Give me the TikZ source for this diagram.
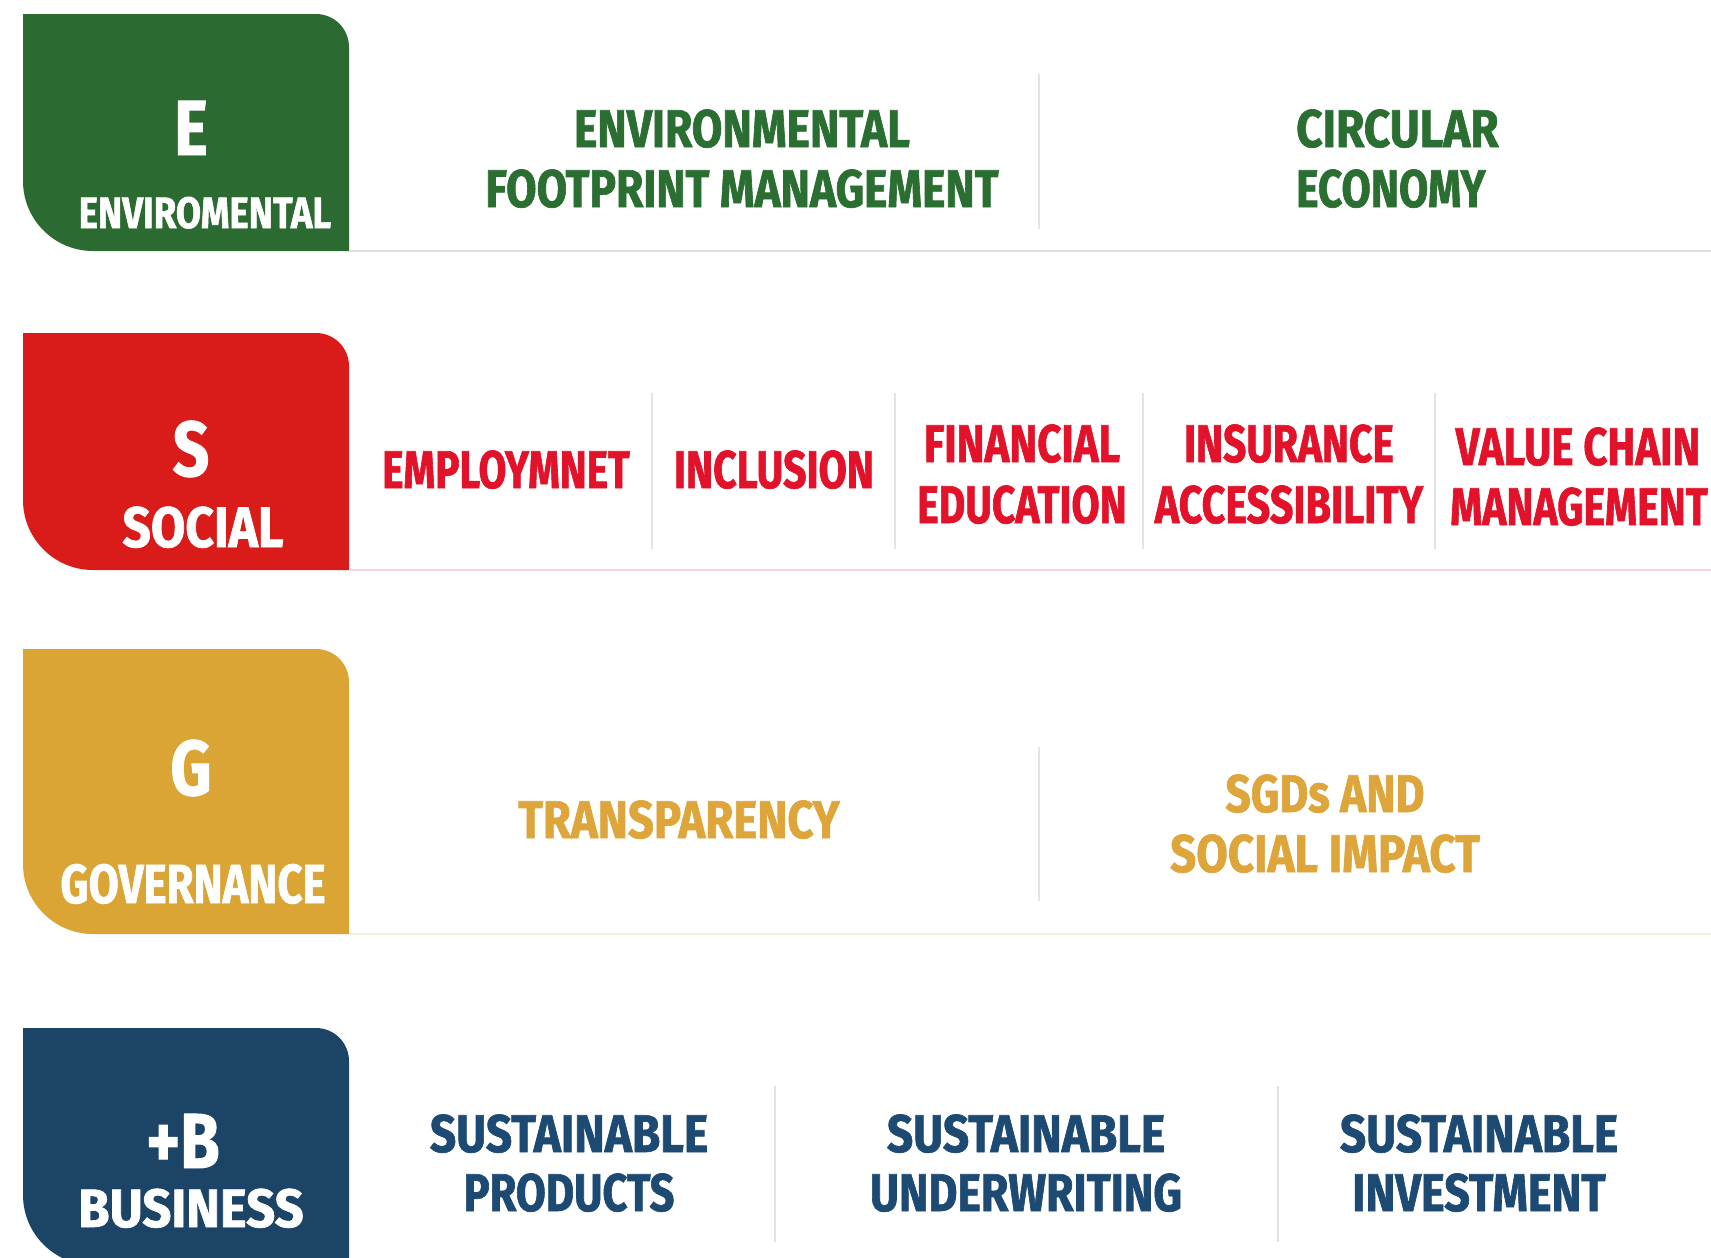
\documentclass[tikz,border=0pt]{standalone}
\usepackage{graphicx}
\usepackage{fontspec}
\newfontfamily\din[FakeStretch=0.82,FakeBold=1.2]{Fira Sans}
\newcommand\hs[2]{\scalebox{#1}[1]{#2}}
\definecolor{egreen}{HTML}{2B6A31}
\definecolor{egreentxt}{HTML}{2A6E32}
\definecolor{sred}{HTML}{D91C1A}
\definecolor{sredtxt}{HTML}{E11229}
\definecolor{ggold}{HTML}{DBA536}
\definecolor{ggoldtxt}{HTML}{DDA53A}
\definecolor{bnavy}{HTML}{1B4467}
\definecolor{bnavytxt}{HTML}{1D4A73}
\definecolor{sepgray}{HTML}{DCDCDC}
\definecolor{seppink}{HTML}{F4D5D8}
\definecolor{sepcream}{HTML}{F2EEDC}
\definecolor{divgray}{HTML}{E3E3E3}
\begin{document}
\begin{tikzpicture}[x=1pt,y=-1pt,
  bigletter/.style={inner sep=0pt,anchor=base,text=white,font=\din\bfseries\fontsize{78}{80}\selectfont},
  boxword/.style={inner sep=0pt,anchor=base,text=white,font=\din\bfseries\fontsize{#1}{60}\selectfont},
  item/.style={inner sep=0pt,anchor=base,font=\din\bfseries\fontsize{53}{60}\selectfont},
  divider/.style={draw=divgray,line width=1.6pt}]
\useasboundingbox (0,0) rectangle (1711,1258);
\fill[white] (0,0) rectangle (1711,1258);
% boxes
\newcommand\pillarbox[3]{%
  \fill[#1] (23,#2) -- (316,#2) arc[start angle=-90,end angle=0,radius=33] -- (349,#3) -- (93,#3) arc[start angle=90,end angle=180,radius=70] -- cycle;}
\pillarbox{egreen}{14}{251}
\pillarbox{sred}{333}{570}
\pillarbox{ggold}{649}{934}
\pillarbox{bnavy}{1028}{1265}
% separators
\draw[sepgray,line width=1.6pt] (349,251) -- (1711,251);
\draw[seppink,line width=1.6pt] (349,570) -- (1711,570);
\draw[sepcream,line width=1.6pt] (349,934) -- (1711,934);
% dividers
\draw[divider] (1039,74) -- (1039,229);
\foreach \x in {652,895,1143,1435} \draw[divider] (\x,393) -- (\x,549);
\draw[divider] (1039,747) -- (1039,901);
\foreach \x in {775,1278} \draw[divider] (\x,1086) -- (\x,1242);
% box labels
\node[bigletter] (eL) at (191,155) {E};
\node[boxword=44] (eW) at (205,228) {\hs{1.013}{ENVIROMENTAL}};
\node[bigletter] (sL) at (191,476) {S};
\node[boxword=57] (sW) at (203,547) {\hs{1.066}{SOCIAL}};
\node[bigletter] (gL) at (191,795) {G};
\node[boxword=55] (gW) at (193,903) {\hs{0.97}{GOVERNANCE}};
\node[bigletter] (bL) at (183,1168) {+B};
\node[boxword=54] (bW) at (191,1227) {\hs{1.147}{BUSINESS}};
% E row
\begin{scope}[every node/.append style={text=egreentxt}]
\node[item] (e1a) at (742,147) {\hs{1.02}{ENVIRONMENTAL}};
\node[item] (e1b) at (742,207) {\hs{1.017}{FOOTPRINT MANAGEMENT}};
\node[item,anchor=base west] (e2a) at (1296,147) {\hs{1.057}{CIRCULAR}};
\node[item,anchor=base west] (e2b) at (1296,207) {\hs{0.977}{ECONOMY}};
\end{scope}
% S row
\begin{scope}[every node/.append style={text=sredtxt}]
\node[item] (s1) at (506,488) {\hs{0.93}{EMPLOYMNET}};
\node[item] (s2) at (774,488) {\hs{0.943}{INCLUSION}};
\node[item] (s3a) at (1022,462) {\hs{0.968}{FINANCIAL}};
\node[item] (s3b) at (1022,523) {\hs{0.94}{EDUCATION}};
\node[item] (s4a) at (1289,462) {\hs{0.937}{INSURANCE}};
\node[item] (s4b) at (1289,523) {\hs{0.95}{ACCESSIBILITY}};
\node[item] (s5a) at (1578,465) {\hs{0.965}{VALUE CHAIN}};
\node[item] (s5b) at (1579,525) {\hs{0.94}{MANAGEMENT}};
\end{scope}
% G row
\begin{scope}[every node/.append style={text=ggoldtxt}]
\node[item] (g1) at (679,838) {\hs{1.046}{TRANSPARENCY}};
\node[item] (g2a) at (1325,812) {\hs{1.02}{SGDs AND}};
\node[item] (g2b) at (1325,872) {\hs{1.052}{SOCIAL IMPACT}};
\end{scope}
% B row
\begin{scope}[every node/.append style={text=bnavytxt}]
\node[item] (b1a) at (569,1152) {\hs{1.058}{SUSTAINABLE}};
\node[item] (b1b) at (569,1211) {PRODUCTS};
\node[item] (b2a) at (1026,1152) {\hs{1.058}{SUSTAINABLE}};
\node[item] (b2b) at (1026,1211) {\hs{1.025}{UNDERWRITING}};
\node[item] (b3a) at (1479,1152) {\hs{1.058}{SUSTAINABLE}};
\node[item] (b3b) at (1479,1211) {\hs{1.036}{INVESTMENT}};
\end{scope}
\end{tikzpicture}
\end{document}
